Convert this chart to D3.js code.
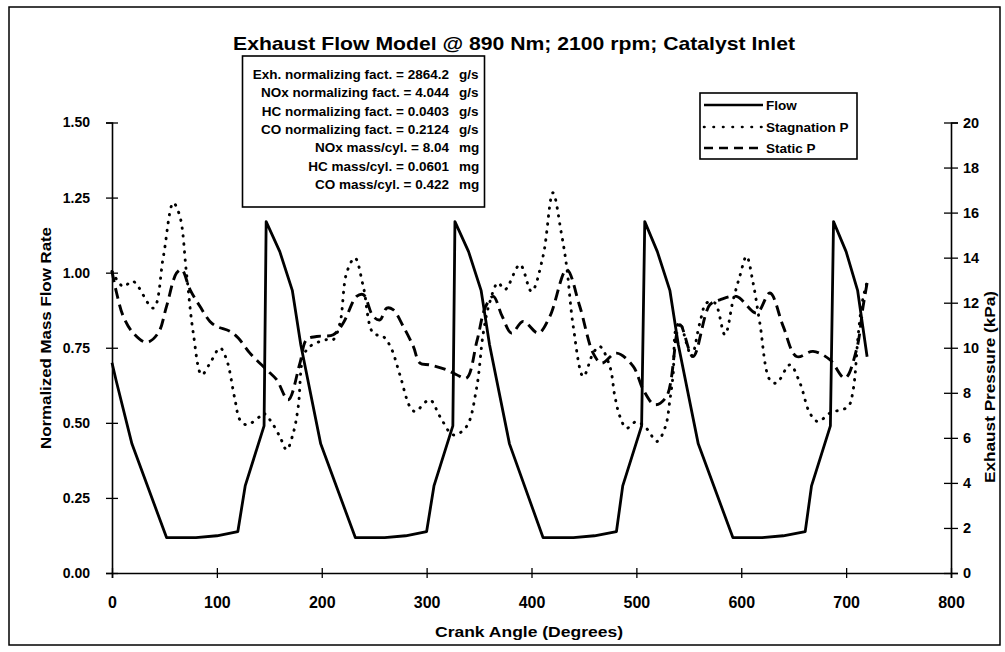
<!DOCTYPE html>
<html>
<head>
<meta charset="utf-8">
<script src="https://cdn.jsdelivr.net/npm/d3@7"></script>
<style>
  html, body { margin: 0; padding: 0; background: #fff; }
  svg text { font-family: "Liberation Sans", Arial, Helvetica, sans-serif; font-weight: bold; fill: #000; }
</style>
</head>
<body>
<svg id="chart" width="1005" height="652"></svg>
<script>
// ---------------- DATA ----------------
const flowAngle = [0, 4, 19, 52, 80, 100, 120, 127, 145, 147, 160, 172, 180, 199, 232, 260, 280, 300, 307, 325, 327, 340, 352, 360, 379, 411, 440, 460, 481, 487, 505, 508, 520, 532, 540, 559, 592, 620, 640, 661, 667, 685, 688, 700, 711, 720];
const flowValue = [0.70, 0.64, 0.43, 0.118, 0.118, 0.124, 0.138, 0.29, 0.49, 1.17, 1.07, 0.94, 0.76, 0.43, 0.118, 0.118, 0.124, 0.138, 0.29, 0.49, 1.17, 1.07, 0.94, 0.76, 0.43, 0.118, 0.118, 0.124, 0.138, 0.29, 0.49, 1.17, 1.07, 0.94, 0.76, 0.43, 0.118, 0.118, 0.124, 0.138, 0.29, 0.49, 1.17, 1.07, 0.94, 0.72];

const stagAngle = [0, 10.6, 20, 39.4, 49, 58.4, 64.7, 71, 77.5, 85.5, 93.5, 103, 109.3, 117, 122, 128.4, 141, 144, 150.6, 160, 166.5, 172.8, 177.6, 182.4, 188.8, 204.7, 211, 217.4, 223.7, 231.6, 239.6, 249, 258.6, 266, 274.5, 284, 289, 303, 312.7, 325.4, 338, 347.6, 354, 360, 368, 374.7, 389, 400, 411, 420.4, 428.4, 433.5, 439.8, 449.4, 458.8, 465, 474.7, 479.5, 484.3, 490.6, 500, 510, 519.6, 527.7, 532, 535, 538, 541.5, 547.8, 552.6, 560.5, 566.9, 574.8, 584.4, 592.3, 598.6, 605, 611.3, 617.7, 627.2, 633.6, 646.4, 656, 665.4, 673.3, 684.5, 701.9, 706.7, 711.4, 714.7, 718, 720];
const stagKPa = [13.39, 12.72, 12.95, 11.76, 14.06, 16.43, 15.84, 13.32, 10.65, 8.8, 9.32, 9.99, 9.47, 7.76, 6.8, 6.58, 6.95, 7.1, 6.8, 6.06, 5.47, 6.21, 7.39, 9.61, 10.06, 10.36, 10.36, 11.1, 13.32, 13.99, 12.72, 10.65, 10.5, 10.0, 8.8, 7.39, 7.17, 7.69, 6.95, 6.13, 6.5, 8.2, 10.65, 11.99, 12.88, 12.58, 13.69, 12.5, 14.06, 16.88, 15.1, 13.61, 10.95, 8.72, 9.76, 10.06, 9.17, 7.84, 6.95, 6.43, 6.72, 6.4, 5.84, 6.5, 7.69, 8.8, 10.9, 11.1, 10.2, 9.61, 11.1, 11.99, 11.99, 10.58, 12.13, 13.17, 14.06, 12.88, 11.1, 8.58, 8.43, 9.24, 8.43, 7.1, 6.72, 7.1, 7.39, 8.13, 10.5, 11.84, 12.58, 12.9];

const statAngle = [0, 4.4, 10.8, 20.3, 33, 44, 52, 61.6, 66.4, 74.4, 83.8, 93.4, 99.7, 112.5, 120.4, 131.5, 147.5, 157, 168, 179.2, 185.5, 195, 211, 220.5, 233.2, 239.6, 249, 255.5, 262, 268, 277.7, 287.3, 293.6, 303, 319, 328.6, 338, 348, 356, 363.5, 372, 381, 392, 406.4, 417.5, 433.5, 446, 458.8, 466.8, 481, 497, 506.6, 517.6, 528.8, 541.5, 554, 570, 579.6, 595.5, 614.6, 627.3, 640, 652.8, 668.5, 684.5, 698.8, 709.9, 716.2, 720];
const statKPa = [13.39, 12.43, 11.39, 10.65, 10.24, 10.65, 11.84, 13.32, 13.47, 12.58, 11.84, 11.17, 10.95, 10.73, 10.43, 9.76, 9.02, 8.58, 7.69, 9.32, 10.36, 10.5, 10.58, 11.1, 12.28, 12.36, 11.39, 11.24, 11.76, 11.69, 10.95, 10.06, 9.32, 9.24, 9.02, 8.8, 8.65, 10.3, 11.8, 12.28, 11.4, 10.65, 11.17, 10.65, 11.39, 13.47, 11.84, 9.76, 9.32, 9.76, 9.17, 8.13, 7.47, 7.84, 11.02, 9.61, 11.91, 12.13, 12.28, 11.54, 12.43, 10.95, 9.61, 9.84, 9.47, 8.65, 9.91, 11.84, 12.88];

const xTicks = [0, 100, 200, 300, 400, 500, 600, 700, 800];
const yLeftTicks = [0, 0.25, 0.5, 0.75, 1.0, 1.25, 1.5];
const yRightTicks = [0, 2, 4, 6, 8, 10, 12, 14, 16, 18, 20];

const titleText = "Exhaust Flow Model @ 890 Nm; 2100 rpm; Catalyst Inlet";
const xTitle = "Crank Angle (Degrees)";
const yLeftTitle = "Normalized Mass Flow Rate";
const yRightTitle = "Exhaust Pressure (kPa)";
const seriesNames = ["Flow", "Stagnation P", "Static P"];
const noteLabels = ["Exh. normalizing fact. = 2864.2", "NOx normalizing fact. = 4.044", "HC normalizing fact. = 0.0403", "CO normalizing fact. = 0.2124", "NOx mass/cyl. = 8.04", "HC mass/cyl. = 0.0601", "CO mass/cyl. = 0.422"];
const noteUnits = ["g/s", "g/s", "g/s", "g/s", "mg", "mg", "mg"];

// ---------------- CHART ----------------
const svg = d3.select("#chart");

// outer frame
svg.append("rect").attr("x", 9).attr("y", 7).attr("width", 991).attr("height", 638)
  .attr("fill", "none").attr("stroke", "#000").attr("stroke-width", 1.5);

const x = d3.scaleLinear().domain([0, 800]).range([112, 951]);
const yL = d3.scaleLinear().domain([0, 1.5]).range([573, 122.5]);
const yR = d3.scaleLinear().domain([0, 20]).range([573, 122.5]);

// axes
const gx = svg.append("g").attr("transform", `translate(0,${yL(0)})`)
  .call(d3.axisBottom(x).tickValues(xTicks).tickFormat(d3.format("d")).tickSizeOuter(0).tickSize(5).tickPadding(19));
gx.selectAll(".tick line").attr("y1", -5).attr("y2", 5);
gx.selectAll("text").style("font-size", "16px").attr("font-family", null);

const gl = svg.append("g").attr("transform", `translate(${x(0)},0)`)
  .call(d3.axisLeft(yL).tickValues(yLeftTicks).tickFormat(d3.format(".2f")).tickSizeOuter(0).tickSize(6).tickPadding(16));
gl.selectAll(".tick line").attr("x1", 6).attr("x2", -6);
gl.selectAll("text").style("font-size", "14px").attr("font-family", null);

const gr = svg.append("g").attr("transform", `translate(${x(800)},0)`)
  .call(d3.axisRight(yR).tickValues(yRightTicks).tickFormat(d3.format("d")).tickSizeOuter(0).tickSize(7).tickPadding(5));
gr.selectAll(".tick line").attr("x1", -7).attr("x2", 7);
gr.selectAll("text").style("font-size", "14.5px").attr("font-family", null);

[gx, gl, gr].forEach(g => {
  g.selectAll("path.domain").attr("stroke", "#000").attr("stroke-width", 1.6);
  g.selectAll(".tick line").attr("stroke", "#000").attr("stroke-width", 1.3);
});

// series
const flowData = flowAngle.map((a, i) => [a, flowValue[i]]);
const stagData = stagAngle.map((a, i) => [a, stagKPa[i]]);
const statData = statAngle.map((a, i) => [a, statKPa[i]]);

const lineFlow = d3.line().x(d => x(d[0])).y(d => yL(d[1]));
const linePress = d3.line().x(d => x(d[0])).y(d => yR(d[1])).curve(d3.curveCatmullRom.alpha(0.5));

svg.append("path").datum(statData).attr("d", linePress)
  .attr("fill", "none").attr("stroke", "#000").attr("stroke-width", 2.9).attr("stroke-dasharray", "11 6");
svg.append("path").datum(stagData).attr("d", linePress)
  .attr("fill", "none").attr("stroke", "#000").attr("stroke-width", 2.9).attr("stroke-linecap", "round").attr("stroke-dasharray", "0.5 7.5");
svg.append("path").datum(flowData).attr("d", lineFlow)
  .attr("fill", "none").attr("stroke", "#000").attr("stroke-width", 2.8).attr("stroke-linejoin", "round");

// title
svg.append("text").attr("x", 514).attr("y", 50).attr("text-anchor", "middle")
  .style("font-size", "19px").attr("textLength", 562).attr("lengthAdjust", "spacingAndGlyphs").text(titleText);

// axis titles
svg.append("text").attr("x", 529).attr("y", 637).attr("text-anchor", "middle").style("font-size", "15.5px")
  .attr("textLength", 188).attr("lengthAdjust", "spacingAndGlyphs").text(xTitle);
svg.append("text").attr("transform", "translate(51,338) rotate(-90)").attr("text-anchor", "middle").style("font-size", "15.5px")
  .attr("textLength", 222).attr("lengthAdjust", "spacingAndGlyphs").text(yLeftTitle);
svg.append("text").attr("transform", "translate(995,387) rotate(-90)").attr("text-anchor", "middle").style("font-size", "15.5px")
  .attr("textLength", 192).attr("lengthAdjust", "spacingAndGlyphs").text(yRightTitle);

// annotation box
svg.append("rect").attr("x", 242.5).attr("y", 56).attr("width", 242).attr("height", 151)
  .attr("fill", "#fff").attr("stroke", "#000").attr("stroke-width", 1.6);
noteLabels.forEach((t, i) => {
  const by = 79 + i * 18.3;
  svg.append("text").attr("x", 449).attr("y", by).attr("text-anchor", "end").style("font-size", "13.5px").text(t);
  svg.append("text").attr("x", 459).attr("y", by).attr("text-anchor", "start").style("font-size", "13.5px").text(noteUnits[i]);
});

// legend
svg.append("rect").attr("x", 700).attr("y", 93).attr("width", 157).attr("height", 66)
  .attr("fill", "#fff").attr("stroke", "#000").attr("stroke-width", 1.6);
const legendY = [105, 127, 148];
const legendStyles = [
  {dash: null, cap: "butt"},
  {dash: "0.5 9", cap: "round"},
  {dash: "9 6", cap: "butt"}
];
seriesNames.forEach((n, i) => {
  svg.append("line").attr("x1", 704).attr("x2", 763).attr("y1", legendY[i]).attr("y2", legendY[i])
    .attr("stroke", "#000").attr("stroke-width", 2.6)
    .attr("stroke-dasharray", legendStyles[i].dash).attr("stroke-linecap", legendStyles[i].cap);
  svg.append("text").attr("x", 766).attr("y", legendY[i] + 5).style("font-size", "13.5px").text(n);
});
</script>
</body>
</html>
